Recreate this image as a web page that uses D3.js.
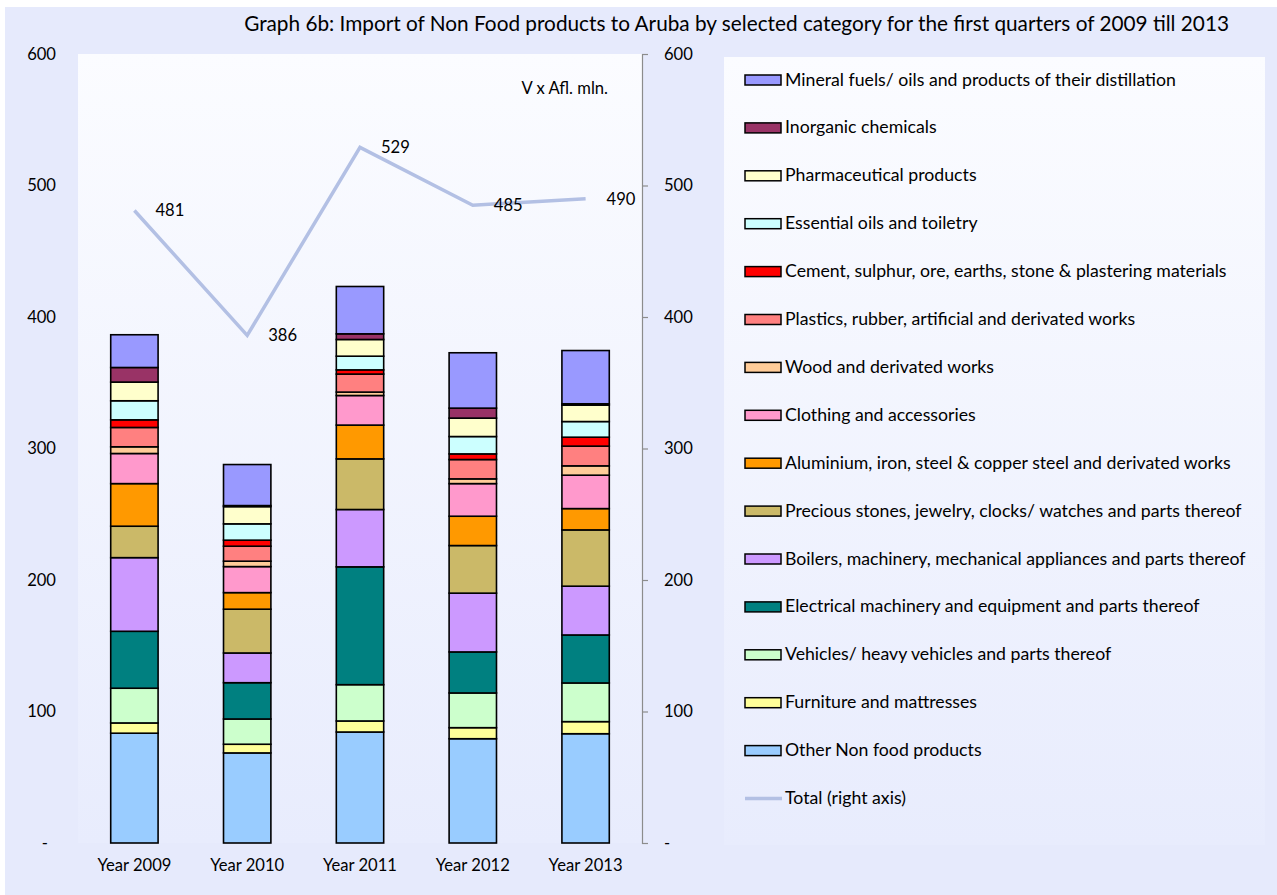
<!DOCTYPE html>
<html>
<head>
<meta charset="utf-8">
<script src="https://cdn.jsdelivr.net/npm/d3@7"></script>
<style>
html,body{margin:0;padding:0;background:#ffffff;}
svg{display:block;}
text{font-family:Lato,"Open Sans","Noto Sans",sans-serif;fill:#000;}
</style>
</head>
<body>
<svg id="chart" width="1277" height="895"></svg>
<script>
// ---------- data ----------
const years = ["Year 2009", "Year 2010", "Year 2011", "Year 2012", "Year 2013"];
const otherNonFood   = [83.5, 68.5, 84.4, 79.3, 83.1];
const furniture      = [7.8, 6.6, 8.4, 8.4, 9.2];
const vehicles       = [26.4, 19.2, 27.6, 26.4, 29.4];
const electrical     = [43.3, 27.6, 89.6, 31.2, 36.5];
const boilers        = [56.0, 22.6, 43.6, 44.7, 37.1];
const precious       = [23.9, 33.3, 38.5, 36.2, 42.8];
const aluminium      = [32.4, 12.6, 25.7, 22.3, 16.2];
const clothing       = [22.9, 19.8, 22.5, 24.8, 25.4];
const wood           = [5.1, 4.1, 2.6, 3.6, 7.1];
const plastics       = [14.7, 11.4, 13.7, 14.7, 15.0];
const cement         = [5.8, 4.6, 3.2, 4.3, 6.8];
const essentialOils  = [14.5, 12.4, 10.4, 13.2, 11.9];
const pharmaceutical = [14.2, 13.1, 12.7, 14.0, 12.5];
const inorganic      = [11.1, 0.8, 4.3, 7.6, 1.0];
const mineralFuels   = [24.9, 31.2, 36.0, 42.1, 40.5];
const totalRight     = [481, 386, 529, 485, 490];
const axisTicks      = [0, 100, 200, 300, 400, 500, 600];

const titleText = "Graph 6b: Import of Non Food products to Aruba by selected category for the first quarters of 2009 till 2013";
const unitText = "V x Afl. mln.";

// series, bottom to top
const seriesNames = [
  "Other Non food products",
  "Furniture and mattresses",
  "Vehicles/ heavy vehicles and parts thereof",
  "Electrical machinery and equipment and parts thereof",
  "Boilers, machinery, mechanical appliances and parts thereof",
  "Precious stones, jewelry, clocks/ watches and parts thereof",
  "Aluminium, iron, steel & copper steel and derivated works",
  "Clothing and accessories",
  "Wood and derivated works",
  "Plastics, rubber, artificial and derivated works",
  "Cement, sulphur, ore, earths, stone & plastering materials",
  "Essential oils and toiletry",
  "Pharmaceutical products",
  "Inorganic chemicals",
  "Mineral fuels/ oils and products of their distillation"
];
const seriesValues = [otherNonFood, furniture, vehicles, electrical, boilers, precious,
  aluminium, clothing, wood, plastics, cement, essentialOils, pharmaceutical, inorganic, mineralFuels];
const seriesColors = ["#99ccff", "#ffff99", "#ccffcc", "#008080", "#cc99ff", "#cbb968",
  "#ff9900", "#ff99cc", "#ffcc99", "#ff8080", "#ff0000", "#ccffff", "#ffffcc", "#993366", "#9999ff"];
const totalName = "Total (right axis)";
const totalColor = "#b3c0e4";

// ---------- table ----------
const keys = seriesNames.map((d, i) => "s" + i);
const table = years.map((y, j) => {
  const row = {year: y};
  keys.forEach((k, i) => row[k] = seriesValues[i][j]);
  return row;
});
const stacked = d3.stack().keys(keys)(table);

// ---------- layout ----------
const svg = d3.select("#chart");
const W = 1277, H = 895;
const plot = {left: 78, right: 642, top: 54, bottom: 843};
const FS = "16.6px";

const defs = svg.append("defs");
const g1 = defs.append("linearGradient").attr("id", "plotGrad").attr("x1", 0).attr("y1", 0).attr("x2", 0).attr("y2", 1);
g1.append("stop").attr("offset", "0%").attr("stop-color", "#fbfcff");
g1.append("stop").attr("offset", "100%").attr("stop-color", "#e8ecfd");

// outer background
svg.append("rect").attr("x", 5).attr("y", 7).attr("width", W - 5).attr("height", H - 7).attr("fill", "#e6eafc");

// plot area
svg.append("rect").attr("x", plot.left).attr("y", plot.top)
  .attr("width", plot.right - plot.left).attr("height", plot.bottom - plot.top)
  .attr("fill", "url(#plotGrad)");

// legend box
const legendBox = {x: 724, y: 57, w: 541, h: 788};
svg.append("rect").attr("x", legendBox.x).attr("y", legendBox.y)
  .attr("width", legendBox.w).attr("height", legendBox.h).attr("fill", "url(#plotGrad)");

// scales
const x = d3.scaleBand().domain(years).range([plot.left, plot.right]).paddingInner(0.58).paddingOuter(0.29);
const y = d3.scaleLinear().domain([0, 600]).range([plot.bottom, plot.top]);
const yR = d3.scaleLinear().domain([0, 600]).range([plot.bottom, plot.top]);

const fmt = d => d === 0 ? "-" : d3.format("d")(d);

// left axis
const leftAxis = svg.append("g").attr("transform", `translate(${plot.left - 22},0)`)
  .call(d3.axisLeft(y).tickValues(axisTicks).tickFormat(fmt).tickSize(0).tickPadding(0));
leftAxis.select(".domain").remove();
leftAxis.selectAll("text").style("font-size", FS).attr("font-family", null)
  .attr("dx", d => d === 0 ? "-8" : "0");

// right axis
const rightAxis = svg.append("g").attr("transform", `translate(${plot.right},0)`)
  .call(d3.axisRight(yR).tickValues(axisTicks).tickFormat(fmt).tickSize(6).tickPadding(16));
rightAxis.select(".domain").attr("stroke", "#8c8c8c").attr("stroke-width", 1.2);
rightAxis.selectAll(".tick line").attr("stroke", "#8c8c8c").attr("stroke-width", 1.2);
rightAxis.selectAll("text").style("font-size", FS).attr("font-family", null);

// bars
const layer = svg.append("g").selectAll("g").data(stacked).join("g")
  .attr("fill", (d, i) => seriesColors[i]);
layer.selectAll("rect").data(d => d).join("rect")
  .attr("x", d => x(d.data.year))
  .attr("width", x.bandwidth())
  .attr("y", d => y(d[1]))
  .attr("height", d => y(d[0]) - y(d[1]))
  .attr("stroke", "#000").attr("stroke-width", 1.6);

// x labels
svg.append("g").selectAll("text").data(years).join("text")
  .attr("x", d => x(d) + x.bandwidth() / 2)
  .attr("y", 871)
  .attr("text-anchor", "middle")
  .style("font-size", FS)
  .text(d => d);

// total line
const lineData = years.map((yr, i) => ({year: yr, v: totalRight[i]}));
const line = d3.line().x(d => x(d.year) + x.bandwidth() / 2).y(d => yR(d.v));
svg.append("path").datum(lineData).attr("d", line)
  .attr("fill", "none").attr("stroke", totalColor).attr("stroke-width", 3.5)
  .attr("stroke-linejoin", "miter");
svg.append("g").selectAll("text").data(lineData).join("text")
  .attr("x", d => x(d.year) + x.bandwidth() / 2 + 21)
  .attr("y", d => yR(d.v) + 6)
  .style("font-size", FS)
  .text(d => d.v);

// unit label
svg.append("text").attr("x", 608).attr("y", 94).attr("text-anchor", "end")
  .style("font-size", FS).text(unitText);

// title
const title = svg.append("text").attr("x", 1229).attr("y", 31).attr("text-anchor", "end")
  .style("font-size", "18px").text(titleText);
{
  const w = title.node().getComputedTextLength();
  title.style("font-size", (18 * 985 / w).toFixed(2) + "px");
}

// legend
const legendItems = seriesNames.map((n, i) => ({name: n, color: seriesColors[i], type: "rect"})).reverse();
legendItems.push({name: totalName, color: totalColor, type: "line"});
const lg = svg.append("g").selectAll("g").data(legendItems).join("g")
  .attr("transform", (d, i) => `translate(745,${80 + i * 47.9})`);
lg.filter(d => d.type === "rect").append("rect")
  .attr("x", 0).attr("y", -5).attr("width", 36).attr("height", 10)
  .attr("fill", d => d.color).attr("stroke", "#000").attr("stroke-width", 1.5);
lg.filter(d => d.type === "line").append("line")
  .attr("x1", 0).attr("x2", 37).attr("y1", 0).attr("y2", 0)
  .attr("stroke", d => d.color).attr("stroke-width", 3.5);
const lt = lg.append("text").attr("x", 40).attr("y", 5.5).style("font-size", "15px").text(d => d.name);
{
  const ref = lt.filter(d => d.name.startsWith("Boilers")).node().getComputedTextLength();
  const fs = 15 * 461 / ref;
  lt.style("font-size", fs.toFixed(2) + "px");
}
</script>
</body>
</html>
